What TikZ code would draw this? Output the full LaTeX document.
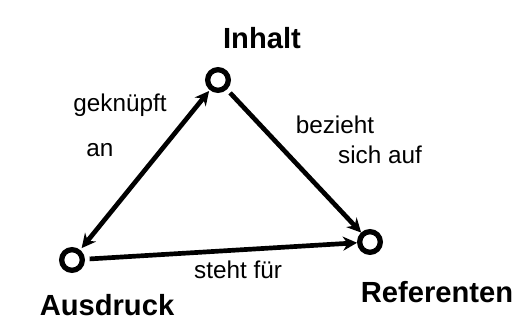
\documentclass[tikz,border=0pt]{standalone}
\usepackage{fontspec}
\setsansfont{Liberation Sans}
\usetikzlibrary{arrows.meta, positioning}

\begin{document}
\begin{tikzpicture}[
  vertex/.style={
    draw, circle, line width=4.5pt,
    minimum size=0.62cm, inner sep=0pt
  },
  term/.style={font=\sffamily\bfseries\Huge},
  note/.style={font=\sffamily\huge, align=left},
  arr/.style={-{Stealth[length=12pt,width=12pt]}, line width=4pt},
  dbl/.style={{Stealth[length=12pt,width=12pt]}-{Stealth[length=12pt,width=12pt]}, line width=4pt},
]
\useasboundingbox (0,0) rectangle (15.87,9.78);

%% Corners of the triangle
\node[vertex] (inhalt)   at (6.54, 7.38) {};
\node[vertex] (ausdruck) at (2.16, 1.98) {};
\node[vertex] (referent) at (11.1, 2.52) {};

%% Names of the corners
\node[term] (inhaltlbl)   at (7.86, 8.64) {Inhalt};
\node[term] (ausdrucklbl) at (3.21, 0.63) {Ausdruck};
\node[term] (referentlbl) at (13.11, 1.02) {Referenten};

%% Edge labels
\node[note] (geknuepft) at (3.60, 6.63) {geknüpft};
\node[note] (an)        at (3.00, 5.28) {an};
\node[note] (bezieht)   at (10.05, 6.03) {bezieht};
\node[note] (sichauf)   at (11.40, 5.13) {sich auf};
\node[note] (steht)     at (7.14, 1.68) {steht für};

%% Arrows
\draw[dbl, shorten <=1pt, shorten >=2pt] (inhalt) -- (ausdruck);
\draw[arr, shorten <=4pt, shorten >=0pt] (inhalt) -- (referent);
\draw[arr, shorten <=4pt, shorten >=0pt] (ausdruck) -- (referent);
\end{tikzpicture}
\end{document}
